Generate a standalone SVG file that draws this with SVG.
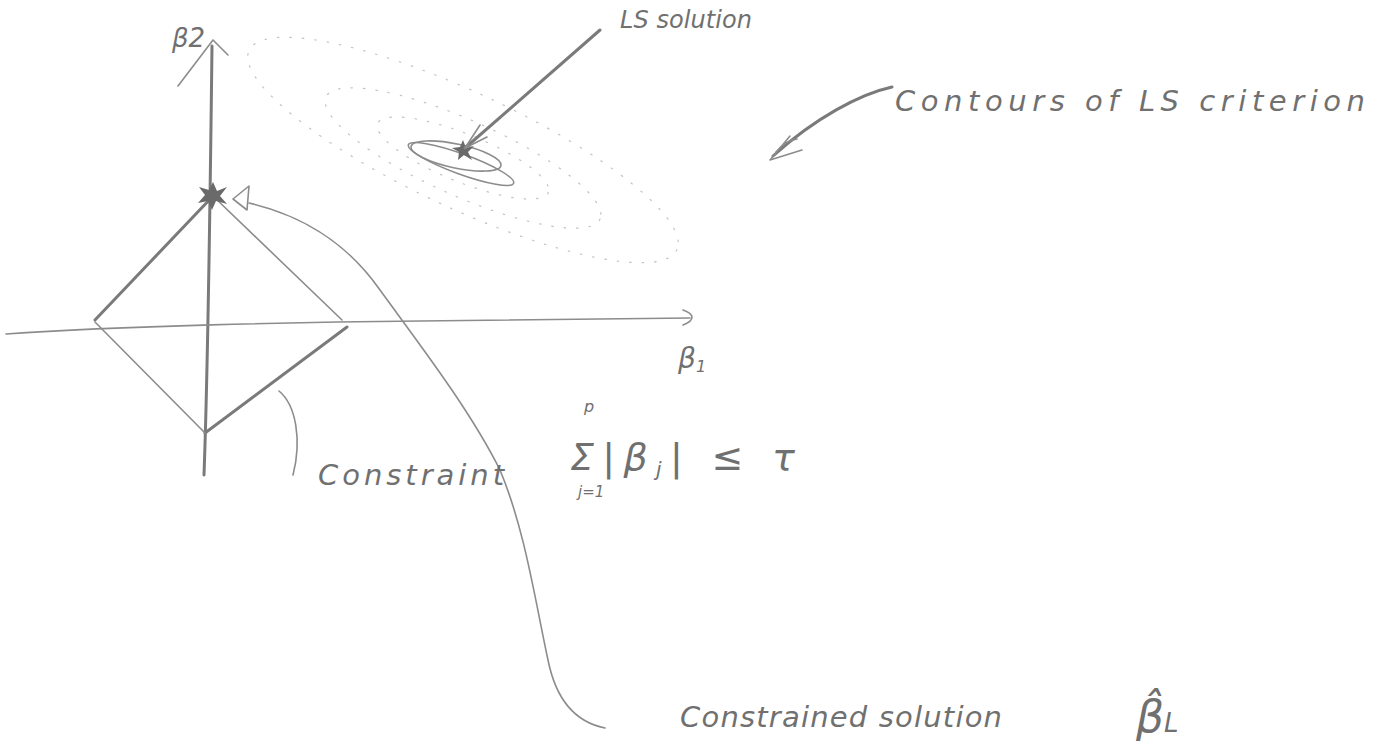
<svg xmlns="http://www.w3.org/2000/svg" width="1380" height="756" viewBox="0 0 1380 756">
<style>
.thin{fill:none;stroke:#8c8c8c;stroke-width:1.6;stroke-linecap:round;stroke-linejoin:round}
.thick{fill:none;stroke:#7a7a7a;stroke-width:3;stroke-linecap:round;stroke-linejoin:round}
.dots{fill:none;stroke:#c2c2c2;stroke-width:1.2;stroke-dasharray:1.5 11;stroke-linecap:round}
.hand{font-family:"DejaVu Sans","Liberation Sans",sans-serif;font-style:italic;font-weight:300;fill:#707070}
</style>
<rect width="1380" height="756" fill="#ffffff"/>

<g id="axes">
  <path class="thick" d="M204,475 C206,420 209,300 212,46"/>
  <path class="thin" d="M178,86 L213,40 L228,55"/>
  <path class="thin" d="M6,334 C120,326 300,322 420,321 C520,320 620,318 690,318"/>
  <path class="thin" d="M683,310 C694,314 696,320 683,325"/>
</g>

<g id="diamond">
  <path class="thick" d="M213,196 L95,320"/>
  <path class="thin" d="M213,196 L342,320"/>
  <path class="thick" d="M347,327 L205,433"/>
  <path class="thin" d="M95,322 L205,433"/>
</g>

<g id="contours">
  <ellipse class="dots" cx="463" cy="158" rx="92" ry="24" transform="rotate(22 463 158)"/>
  <ellipse class="dots" cx="463" cy="158" rx="150" ry="38" transform="rotate(24 463 158)"/>
  <ellipse class="dots" cx="463" cy="150" rx="236" ry="58" transform="rotate(25 463 150)"/>
  <ellipse class="thin" cx="461" cy="164" rx="56" ry="10" transform="rotate(20 461 164)"/>
  <ellipse class="thin" cx="456" cy="156" rx="46" ry="12" transform="rotate(12 456 156)"/>
</g>

<g id="ls-solution-point">
  <path d="M463,140 L466,148 L474,146 L468,152 L472,160 L464,155 L458,160 L459,152 L452,148 L460,147 Z" fill="#6a6a6a"/>
</g>

<g id="constrained-solution-point">
  <path d="M213,182 L217,191 L227,187 L220,196 L227,204 L216,201 L212,210 L208,201 L198,203 L205,195 L199,187 L209,190 Z" fill="#6a6a6a"/>
  <path class="thin" d="M233,199 L249,186 L247,210 Z"/>
</g>

<g id="connectors">
  <path class="thick" d="M600,30 L465,148"/>
  <path class="thin" d="M465,148 L480,125 M465,148 L487,137"/>
  <path class="thick" d="M892,87 C860,94 815,118 773,156"/>
  <path class="thin" d="M770,160 L790,136 M770,160 L802,150 M776,152 C782,144 790,140 797,139"/>
  <path class="thin" d="M279,391 C296,405 302,440 293,475"/>
  <path class="thin" d="M249,203 C300,215 345,240 380,290 C420,345 470,410 500,470 C525,530 535,600 548,660 C556,700 575,722 605,728"/>
</g>

<g id="labels">
  <text class="hand" x="172" y="47" font-size="26">β2</text>
  <text class="hand" x="620" y="28" font-size="24" textLength="132">LS solution</text>
  <text class="hand" x="895" y="111" font-size="29" textLength="470">Contours of LS criterion</text>
  <text class="hand" x="678" y="368" font-size="28">β<tspan font-size="16" dy="4">1</tspan></text>
  <text class="hand" x="318" y="485" font-size="29" textLength="186">Constraint</text>
  <text class="hand" x="584" y="412" font-size="16">p</text>
  <text class="hand" x="570" y="470" font-size="38" textLength="225">Σ|β<tspan font-size="20" dy="6">j</tspan><tspan dy="-6">| ≤ τ</tspan></text>
  <text class="hand" x="578" y="497" font-size="15">j=1</text>
  <text class="hand" x="680" y="727" font-size="29" textLength="322">Constrained solution</text>
  <text class="hand" x="1136" y="732" font-size="44">β̂<tspan font-size="26" dy="0">L</tspan></text>
</g>
</svg>
